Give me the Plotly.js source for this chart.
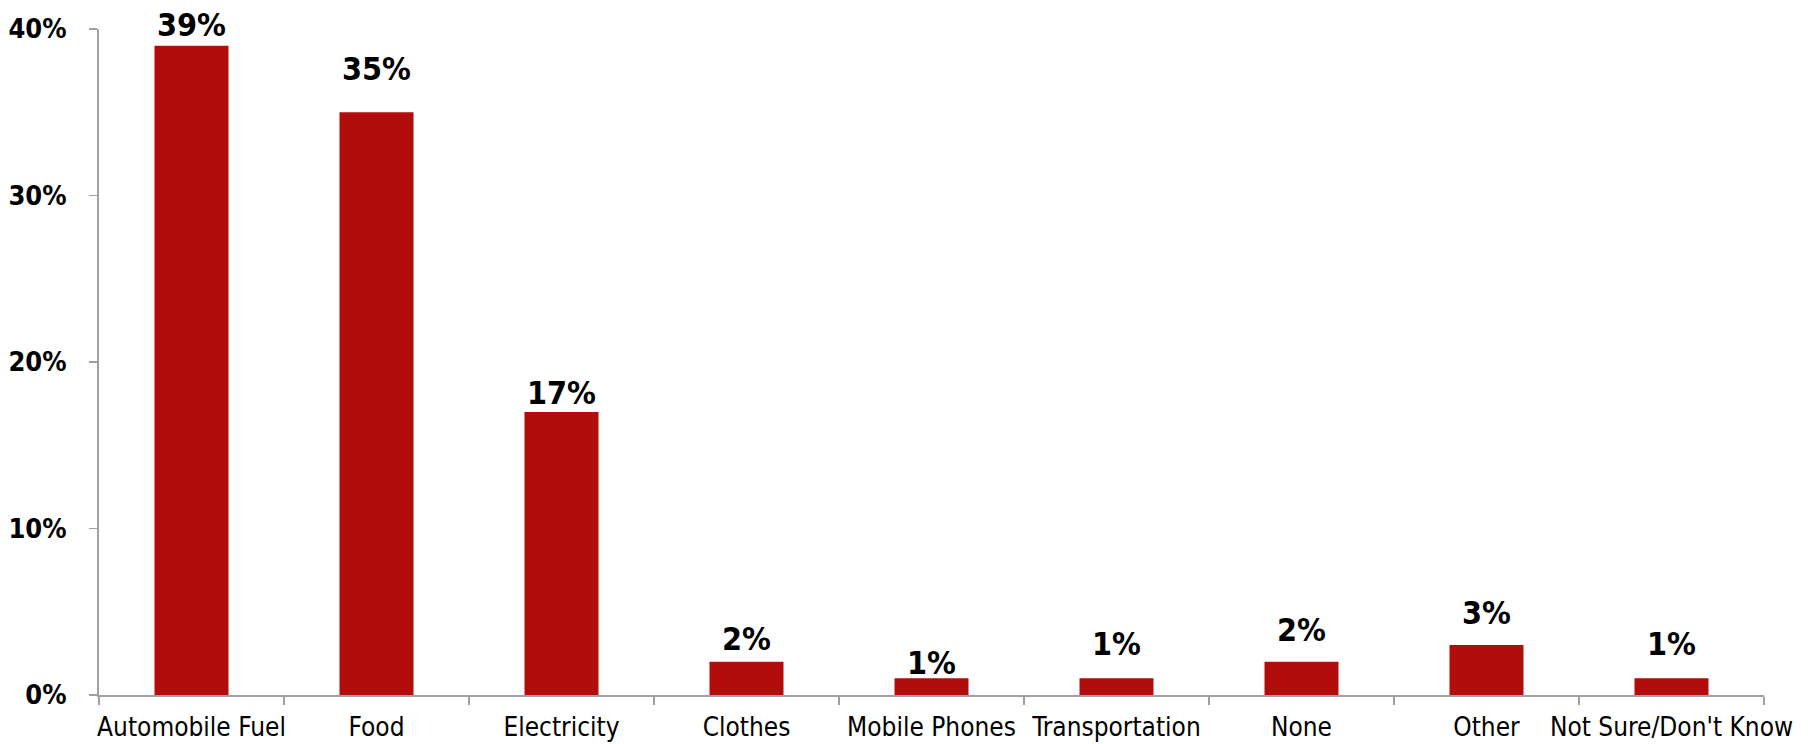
<!DOCTYPE html>
<html>
<head>
<meta charset="utf-8">
<script src="https://cdn.plot.ly/plotly-3.0.1.min.js"></script>
<style>html,body{margin:0;padding:0;background:#fff}#chart{width:1816px;height:744px}</style>
</head>
<body>
<div id="chart"></div>
<script>
const categories = ["Automobile Fuel", "Food", "Electricity", "Clothes", "Mobile Phones", "Transportation", "None", "Other", "Not Sure/Don't Know"];
const values = [39, 35, 17, 2, 1, 1, 2, 3, 1];
const valueLabels = ["39%", "35%", "17%", "2%", "1%", "1%", "2%", "3%", "1%"];
const yTickValues = [0, 10, 20, 30, 40];
const yTickLabels = ["0%", "10%", "20%", "30%", "40%"];
// label lift above each bar (pixels), as in the reference
const labelLift = [8, 30, 6, 10, 2, 21, 19, 19, 21];

const barColor = "#B20C0C";
const axisColor = "#A0A0A0";

const trace = {
  type: "bar",
  x: categories,
  y: values,
  marker: { color: barColor },
  hoverinfo: "x+y"
};

const annotations = categories.map((c, i) => ({
  x: c, y: values[i], xref: "x", yref: "y",
  text: valueLabels[i], showarrow: false,
  yanchor: "bottom", yshift: labelLift[i] - 8,
  font: { family: "DejaVu Sans Condensed, DejaVu Sans", size: 32, color: "#000", weight: "bold" }
}));

const layout = {
  width: 1816, height: 744,
  margin: { l: 99, r: 52, t: 29, b: 49 },
  paper_bgcolor: "#fff", plot_bgcolor: "#fff",
  bargap: 0.6,
  showlegend: false,
  annotations: annotations,
  xaxis: {
    type: "category",
    showline: true, linecolor: axisColor, linewidth: 2,
    ticks: "outside", tickson: "boundaries", ticklen: 8, tickcolor: axisColor, tickwidth: 1.5,
    showgrid: false, zeroline: false,
    tickangle: 0,
    tickfont: { family: "DejaVu Sans Condensed, DejaVu Sans", size: 26, color: "#000" },
    ticklabelstandoff: 8,
    fixedrange: true
  },
  yaxis: {
    range: [0, 40],
    tickvals: yTickValues, ticktext: yTickLabels,
    showline: true, linecolor: axisColor, linewidth: 2,
    ticks: "outside", ticklen: 8, tickcolor: axisColor, tickwidth: 1.5,
    showgrid: false, zeroline: false,
    tickfont: { family: "DejaVu Sans Condensed, DejaVu Sans", size: 27, color: "#000", weight: "bold" },
    ticklabelstandoff: 17,
    fixedrange: true
  }
};

Plotly.newPlot("chart", [trace], layout, { displayModeBar: false, staticPlot: true });
</script>
</body>
</html>
